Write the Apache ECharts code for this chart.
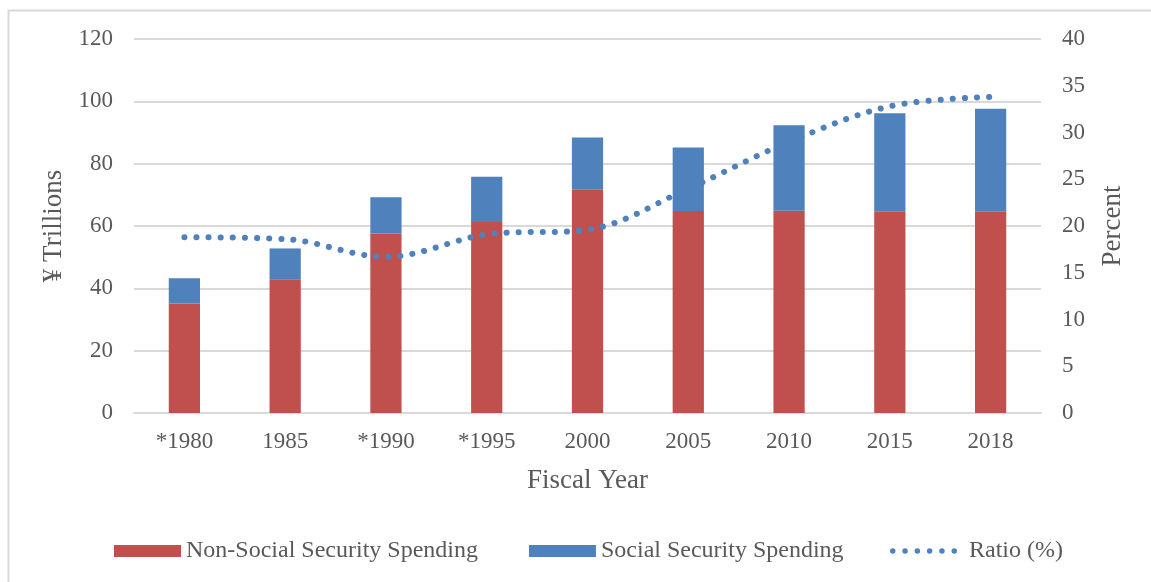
<!DOCTYPE html>
<html>
<head>
<meta charset="utf-8">
<script src="https://cdn.jsdelivr.net/npm/echarts@6/dist/echarts.min.js"></script>
<style>
html,body{margin:0;padding:0;background:#fff;}
#c{width:1151px;height:582px;}
</style>
</head>
<body>
<div id="c"></div>
<script>
const categories = ['*1980','1985','*1990','*1995','2000','2005','2010','2015','2018'];
const nonSocial = [35.1, 42.9, 57.6, 61.3, 71.8, 64.8, 64.9, 64.7, 64.6];
const social = [8.1, 9.9, 11.6, 14.5, 16.6, 20.4, 27.4, 31.5, 33.0];
const ratio = [18.8, 18.6, 16.7, 19.1, 19.6, 24.0, 29.0, 32.8, 33.8];

const FONT = '"Liberation Serif", "Times New Roman", serif';
const TXT = '#595959';
const BLUE = '#4F81BD';
const RED = '#C0504D';
// six round dots for the ratio legend icon
let dots = '';
for (let i = 0; i < 6; i++) {
  const x0 = i * 12.3;
  dots += 'M' + x0 + ',2.75 a2.75,2.75 0 1,0 5.5,0 a2.75,2.75 0 1,0 -5.5,0 Z ';
}

const chart = echarts.init(document.getElementById('c'));
chart.setOption({
  animation: false,
  backgroundColor: '#fff',
  textStyle: {fontFamily: FONT, color: TXT},
  graphic: [{
    type: 'rect', left: 6, top: 8,
    shape: {width: 1200, height: 620},
    style: {fill: 'none', stroke: '#d9d9d9', lineWidth: 2}
  }],
  grid: {left: 134, right: 110, top: 39, bottom: 169},
  legend: [{
    left: 109, top: 534,
    itemWidth: 67, itemHeight: 12, itemGap: 51,
    textStyle: {fontFamily: FONT, fontSize: 24, color: TXT},
    data: [
      {name: 'Non-Social Security Spending', icon: 'rect'},
      {name: 'Social Security Spending', icon: 'rect'}
    ]
  }, {
    left: 885, top: 534,
    itemWidth: 67, itemHeight: 5.5,
    textStyle: {fontFamily: FONT, fontSize: 24, color: TXT, padding: [0, 0, 0, 7]},
    data: [{name: 'Ratio (%)', icon: 'path://' + dots, itemStyle: {color: BLUE, borderWidth: 0}}]
  }],
  xAxis: {
    type: 'category', data: categories,
    name: 'Fiscal Year', nameLocation: 'middle', nameGap: 54,
    nameTextStyle: {fontFamily: FONT, fontSize: 27, color: TXT},
    axisLine: {show: true, lineStyle: {color: '#d9d9d9', width: 2}},
    axisTick: {show: false},
    axisLabel: {fontFamily: FONT, fontSize: 23, color: TXT, margin: 17}
  },
  yAxis: [{
    type: 'value', min: 0, max: 120, interval: 20,
    name: '¥ Trillions', nameLocation: 'middle', nameGap: 57, nameRotate: 90,
    nameTextStyle: {fontFamily: FONT, fontSize: 27, color: TXT},
    axisLine: {show: false}, axisTick: {show: false},
    axisLabel: {fontFamily: FONT, fontSize: 23, color: TXT, margin: 21},
    splitLine: {lineStyle: {color: '#d9d9d9', width: 2}}
  }, {
    type: 'value', min: 0, max: 40, interval: 5,
    name: 'Percent', nameLocation: 'middle', nameGap: 58, nameRotate: 90,
    nameTextStyle: {fontFamily: FONT, fontSize: 27, color: TXT},
    axisLine: {show: false}, axisTick: {show: false},
    axisLabel: {fontFamily: FONT, fontSize: 23, color: TXT, margin: 21},
    splitLine: {show: false}
  }],
  series: [{
    name: 'Non-Social Security Spending', type: 'bar', stack: 'total',
    data: nonSocial, barWidth: '31%',
    itemStyle: {color: RED}
  }, {
    name: 'Social Security Spending', type: 'bar', stack: 'total',
    data: social, barWidth: '31%',
    itemStyle: {color: BLUE}
  }, {
    name: 'Ratio (%)', type: 'line', yAxisIndex: 1,
    data: ratio, smooth: 0.35, symbol: 'none', showSymbol: false,
    itemStyle: {color: BLUE},
    lineStyle: {color: BLUE, width: 6, type: [0.1, 12], cap: 'round'},
    z: 5
  }]
});
</script>
</body>
</html>
